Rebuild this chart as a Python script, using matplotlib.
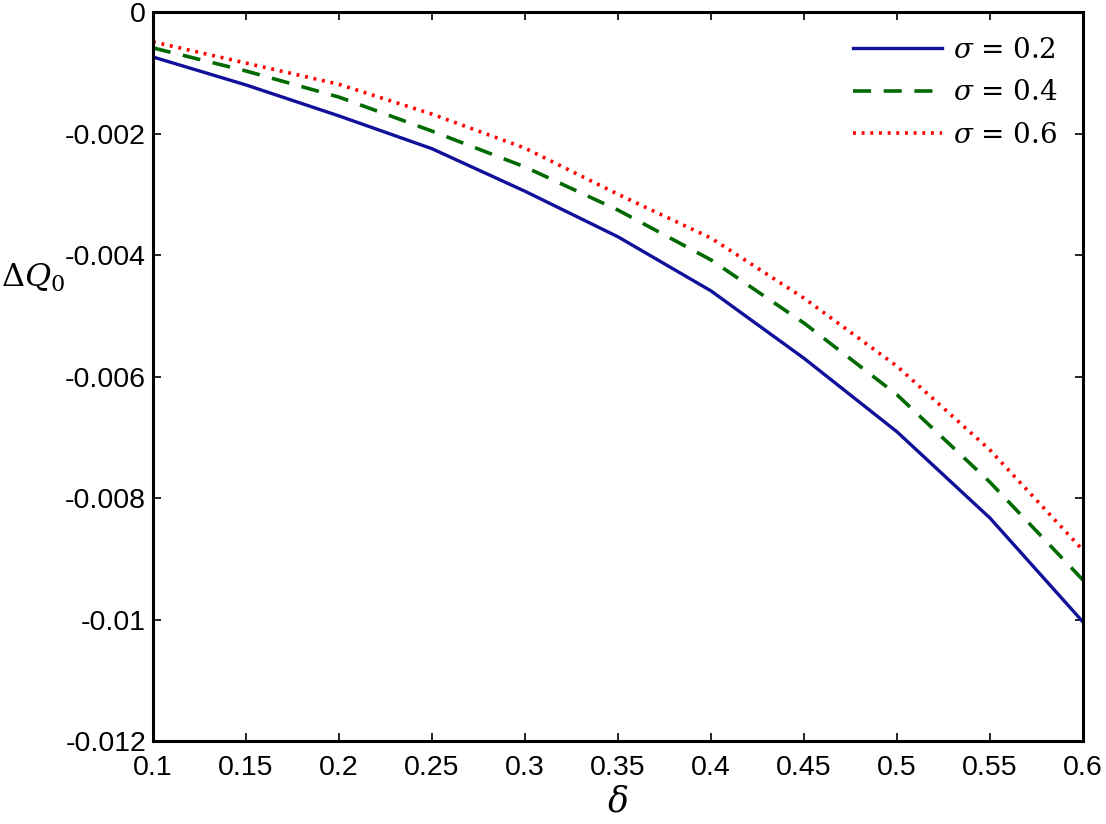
import matplotlib.pyplot as plt

plt.rcParams['font.family'] = ['Liberation Sans', 'DejaVu Sans']
plt.rcParams['mathtext.fontset'] = 'dejavuserif'

delta = [0.1, 0.15, 0.2, 0.25, 0.3, 0.35, 0.4, 0.45, 0.5, 0.55, 0.6]
dq_s02 = [-0.00074, -0.0012, -0.00171, -0.00225, -0.00295, -0.0037,
          -0.00459, -0.0057, -0.00691, -0.00833, -0.01004]
dq_s04 = [-0.00059, -0.00097, -0.0014, -0.00196, -0.00255, -0.00326,
          -0.00408, -0.00512, -0.0063, -0.00774, -0.00935]
dq_s06 = [-0.00049, -0.00084, -0.00119, -0.00168, -0.00224, -0.003,
          -0.00372, -0.00471, -0.00583, -0.00721, -0.00886]
labels = ['$\\sigma$ = 0.2', '$\\sigma$ = 0.4', '$\\sigma$ = 0.6']

xticks = [0.1, 0.15, 0.2, 0.25, 0.3, 0.35, 0.4, 0.45, 0.5, 0.55, 0.6]
yticks = [-0.012, -0.01, -0.008, -0.006, -0.004, -0.002, 0]

fig = plt.figure(figsize=(11.06, 8.24), dpi=100)
ax = fig.add_axes([0.1383, 0.1007, 0.8409, 0.8847])

ax.plot(delta, dq_s02, color='#10109a', lw=2.4, label=labels[0])
ax.plot(delta, dq_s04, color='#006a00', lw=2.6, ls=(0, (5, 3.5)), label=labels[1])
ax.plot(delta, dq_s06, color='#ff0000', lw=2.6, ls=(0, (0.8, 1.6)), label=labels[2])

ax.set_xlim(0.1, 0.6)
ax.set_ylim(-0.012, 0)
ax.set_xticks(xticks)
ax.set_xticklabels([f'{t:g}' for t in xticks])
ax.set_yticks(yticks)
ax.set_yticklabels([f'{t:g}' for t in yticks])
ax.tick_params(direction='in', length=6, width=1.2, top=True, right=True,
               labelsize=20.5)
ax.tick_params(axis='x', pad=10)
ax.tick_params(axis='y', pad=5)
for s in ax.spines.values():
    s.set_linewidth(2.2)

ax.set_xlabel('$\\delta$', fontsize=25, labelpad=3)
ax.set_ylabel('$\\Delta Q_0$', fontsize=23, rotation=0, va='center', ha='center')
ax.yaxis.set_label_coords(-0.129, 0.635)

leg = ax.legend(loc='upper right', bbox_to_anchor=(1.0, 1.0), frameon=False,
                prop={'family': 'DejaVu Serif', 'size': 20},
                handlelength=3.2, handletextpad=0.4,
                labelspacing=0.55, borderaxespad=0.5)

fig.savefig('out.png', dpi=100)
